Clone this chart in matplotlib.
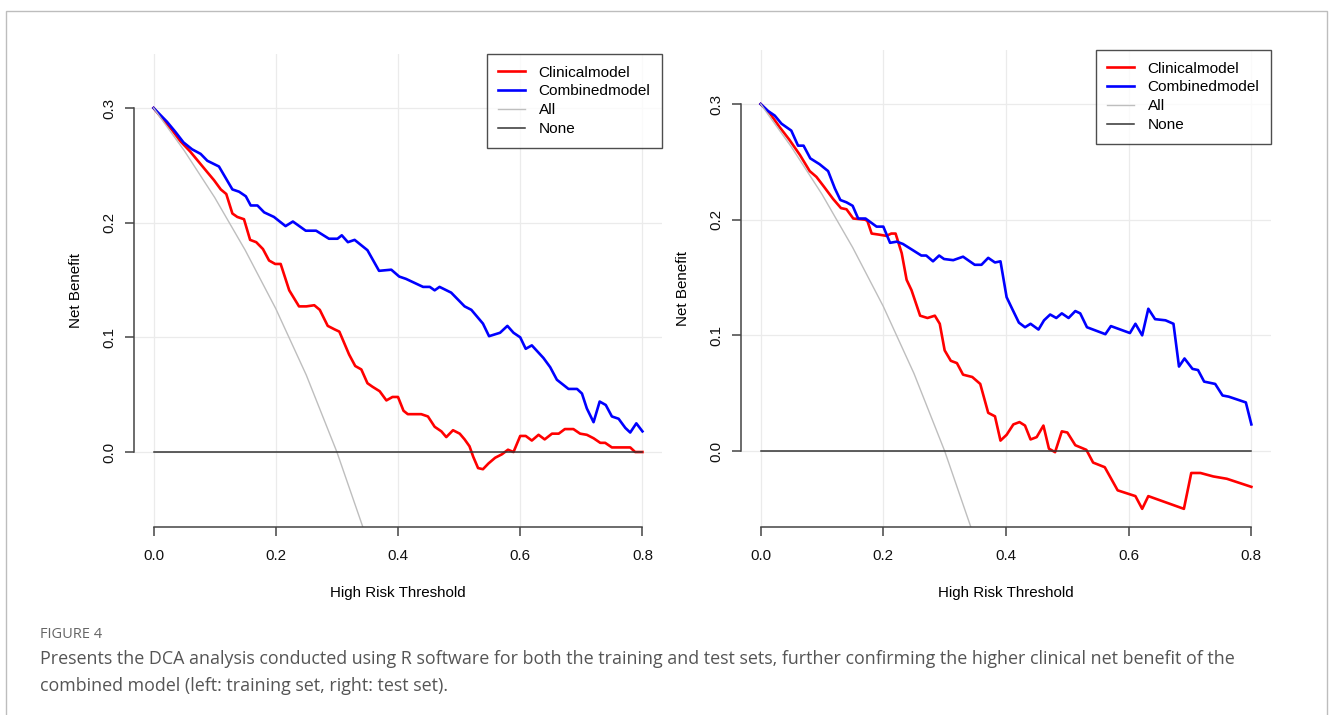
import matplotlib
matplotlib.use("Agg")
import matplotlib.pyplot as plt
from matplotlib.patches import Rectangle

plt.rcParams['font.family'] = ['Liberation Sans', 'DejaVu Sans']

# training set (left panel)
train_clin_x = [0, 0.014, 0.030, 0.044, 0.060, 0.074, 0.088, 0.099, 0.110, 0.119,
                0.129, 0.137, 0.148, 0.158, 0.168, 0.179, 0.189, 0.199, 0.208, 0.222,
                0.238, 0.250, 0.263, 0.272, 0.285, 0.296, 0.304, 0.312, 0.320, 0.330,
                0.340, 0.350, 0.358, 0.370, 0.381, 0.391, 0.400, 0.409, 0.416, 0.438,
                0.449, 0.460, 0.471, 0.479, 0.490, 0.501, 0.509, 0.517, 0.523, 0.531,
                0.539, 0.548, 0.559, 0.570, 0.580, 0.589, 0.600, 0.609, 0.619, 0.630,
                0.640, 0.652, 0.663, 0.673, 0.687, 0.698, 0.709, 0.720, 0.731, 0.739,
                0.750, 0.780, 0.788, 0.800]
train_clin_y = [0.300, 0.291, 0.281, 0.271, 0.262, 0.253, 0.244, 0.237, 0.229, 0.225,
                0.208, 0.205, 0.203, 0.185, 0.183, 0.177, 0.167, 0.164, 0.164, 0.141,
                0.127, 0.127, 0.128, 0.124, 0.110, 0.107, 0.105, 0.095, 0.085, 0.075,
                0.072, 0.060, 0.057, 0.053, 0.045, 0.048, 0.048, 0.036, 0.033, 0.033,
                0.031, 0.022, 0.018, 0.013, 0.019, 0.016, 0.011, 0.005, -0.004, -0.014,
                -0.015, -0.010, -0.005, -0.002, 0.002, 0.000, 0.014, 0.014, 0.010, 0.015,
                0.011, 0.016, 0.016, 0.020, 0.020, 0.016, 0.015, 0.012, 0.008, 0.008,
                0.004, 0.004, 0.000, 0.000]
train_comb_x = [0, 0.011, 0.022, 0.036, 0.049, 0.063, 0.077, 0.088, 0.107, 0.118,
                0.129, 0.140, 0.151, 0.159, 0.170, 0.181, 0.197, 0.216, 0.228, 0.249,
                0.266, 0.287, 0.301, 0.308, 0.318, 0.329, 0.350, 0.369, 0.389, 0.402,
                0.413, 0.441, 0.452, 0.460, 0.468, 0.487, 0.509, 0.520, 0.539, 0.549,
                0.567, 0.579, 0.589, 0.600, 0.609, 0.619, 0.638, 0.649, 0.660, 0.679,
                0.693, 0.701, 0.709, 0.720, 0.730, 0.740, 0.750, 0.761, 0.772, 0.780,
                0.790, 0.800]
train_comb_y = [0.300, 0.294, 0.288, 0.279, 0.270, 0.264, 0.260, 0.254, 0.249, 0.239,
                0.229, 0.227, 0.223, 0.215, 0.215, 0.209, 0.205, 0.197, 0.201, 0.193,
                0.193, 0.186, 0.186, 0.189, 0.183, 0.185, 0.176, 0.158, 0.159, 0.153,
                0.151, 0.144, 0.144, 0.141, 0.144, 0.139, 0.127, 0.124, 0.112, 0.101,
                0.104, 0.110, 0.104, 0.100, 0.090, 0.093, 0.082, 0.074, 0.063, 0.055,
                0.055, 0.051, 0.038, 0.026, 0.044, 0.041, 0.031, 0.029, 0.021, 0.017,
                0.025, 0.018]

# test set (right panel)
test_clin_x = [0, 0.015, 0.031, 0.047, 0.064, 0.080, 0.091, 0.104, 0.118, 0.131,
               0.140, 0.151, 0.170, 0.174, 0.181, 0.194, 0.205, 0.213, 0.220, 0.230,
               0.238, 0.246, 0.260, 0.272, 0.284, 0.292, 0.300, 0.310, 0.320, 0.330,
               0.345, 0.358, 0.371, 0.382, 0.391, 0.401, 0.412, 0.422, 0.431, 0.440,
               0.450, 0.461, 0.470, 0.480, 0.491, 0.500, 0.513, 0.531, 0.542, 0.561,
               0.582, 0.611, 0.622, 0.632, 0.690, 0.702, 0.717, 0.738, 0.760, 0.800]
test_clin_y = [0.300, 0.292, 0.280, 0.269, 0.256, 0.242, 0.237, 0.228, 0.218, 0.210,
               0.209, 0.201, 0.200, 0.199, 0.188, 0.187, 0.186, 0.188, 0.188, 0.171,
               0.148, 0.139, 0.117, 0.115, 0.117, 0.110, 0.087, 0.078, 0.076, 0.066,
               0.064, 0.058, 0.033, 0.030, 0.009, 0.014, 0.023, 0.025, 0.022, 0.010,
               0.012, 0.022, 0.002, -0.001, 0.017, 0.016, 0.005, 0.001, -0.010, -0.014,
               -0.034, -0.039, -0.050, -0.039, -0.050, -0.019, -0.019, -0.022, -0.024, -0.031]
test_comb_x = [0, 0.012, 0.023, 0.034, 0.050, 0.061, 0.070, 0.081, 0.096, 0.110,
               0.121, 0.130, 0.140, 0.150, 0.159, 0.171, 0.189, 0.200, 0.211, 0.222,
               0.232, 0.262, 0.270, 0.281, 0.291, 0.299, 0.314, 0.330, 0.349, 0.360,
               0.371, 0.382, 0.391, 0.401, 0.410, 0.421, 0.431, 0.440, 0.453, 0.462,
               0.472, 0.482, 0.491, 0.502, 0.513, 0.521, 0.532, 0.562, 0.571, 0.602,
               0.611, 0.622, 0.632, 0.643, 0.660, 0.673, 0.682, 0.691, 0.704, 0.713,
               0.723, 0.741, 0.753, 0.763, 0.791, 0.800]
test_comb_y = [0.300, 0.294, 0.290, 0.283, 0.277, 0.264, 0.264, 0.253, 0.248, 0.242,
               0.227, 0.217, 0.215, 0.212, 0.201, 0.201, 0.194, 0.194, 0.180, 0.181,
               0.179, 0.169, 0.169, 0.164, 0.169, 0.166, 0.165, 0.168, 0.161, 0.161,
               0.167, 0.163, 0.164, 0.133, 0.123, 0.111, 0.107, 0.110, 0.105, 0.113,
               0.118, 0.115, 0.119, 0.115, 0.121, 0.119, 0.107, 0.101, 0.108, 0.102,
               0.110, 0.100, 0.123, 0.114, 0.113, 0.110, 0.073, 0.080, 0.071, 0.070,
               0.060, 0.058, 0.048, 0.047, 0.042, 0.023]

# treat-all curve (same prevalence in both sets)
all_x = [0, 0.05, 0.10, 0.15, 0.20, 0.25, 0.30, 0.35]
all_y = [0.300, 0.263, 0.222, 0.176, 0.125, 0.067, 0.000, -0.077]
none_x = [0, 0.8]
none_y = [0, 0]

x_ticks = [0.0, 0.2, 0.4, 0.6, 0.8]
y_ticks = [0.0, 0.1, 0.2, 0.3]
labels = ["Clinicalmodel", "Combinedmodel", "All", "None"]

W, H = 1330, 715
fig = plt.figure(figsize=(W / 100, H / 100), dpi=100)
fig.patch.set_facecolor("white")

# outer frame of the figure box
fig.add_artist(Rectangle((6 / W, -0.01), (1327 - 6) / W, 1 - 11 / H + 0.01,
                         transform=fig.transFigure, fill=False,
                         edgecolor="#bdbdbd", linewidth=1.0))


def dca_panel(rect, clin_x, clin_y, comb_x, comb_y, ylim):
    ax = fig.add_axes(rect)
    ax.set_xlim(-0.032, 0.832)
    ax.set_ylim(*ylim)
    for x in x_ticks:
        ax.axvline(x, color="#ebebeb", linewidth=0.9, zorder=0)
    for y in y_ticks:
        ax.axhline(y, color="#ebebeb", linewidth=0.9, zorder=0)
    ax.plot(clin_x, clin_y, color="#ff0000", linewidth=1.9, label=labels[0])
    ax.plot(comb_x, comb_y, color="#0000ff", linewidth=1.9, label=labels[1])
    ax.plot(all_x, all_y, color="#bebebe", linewidth=1.0, label=labels[2])
    ax.plot(none_x, none_y, color="#333333", linewidth=1.1, label=labels[3])

    for s in ["top", "right"]:
        ax.spines[s].set_visible(False)
    ax.spines["bottom"].set_bounds(0, 0.8)
    ax.spines["left"].set_bounds(0, 0.3)
    for s in ["bottom", "left"]:
        ax.spines[s].set_color("#444444")
        ax.spines[s].set_linewidth(1.1)
    ax.set_xticks(x_ticks)
    ax.set_xticklabels(["%.1f" % v for v in x_ticks])
    ax.set_yticks(y_ticks)
    ax.set_yticklabels(["%.1f" % v for v in y_ticks], rotation=90, va="center")
    ax.tick_params(direction="out", length=6.5, width=1.1, color="#444444",
                   labelsize=10.9, labelcolor="#111111")
    ax.tick_params(axis="x", pad=9)
    ax.tick_params(axis="y", pad=6)
    ax.set_xlabel("High Risk Threshold", fontsize=10.9, labelpad=17)
    ax.set_ylabel("Net Benefit", fontsize=10.9, labelpad=14)

    leg = ax.legend(loc="upper right", bbox_to_anchor=(1.0, 1.0), borderaxespad=0,
                    fontsize=11.1, frameon=True, fancybox=False, handlelength=1.7,
                    handletextpad=0.9, labelspacing=0.32, borderpad=0.75)
    leg.get_frame().set_edgecolor("#222222")
    leg.get_frame().set_linewidth(1.0)
    return ax


dca_panel([134 / W, 1 - 527 / H, (662 - 134) / W, (527 - 54) / H],
          train_clin_x, train_clin_y, train_comb_x, train_comb_y, (-0.0654, 0.3471))
dca_panel([741 / W, 1 - 527 / H, (1271 - 741) / W, (527 - 50) / H],
          test_clin_x, test_clin_y, test_comb_x, test_comb_y, (-0.0657, 0.3467))

fig.text(40 / W, 1 - 634 / H, "FIGURE 4", fontsize=10.5, color="#666666",
         family="Open Sans", va="center")
fig.text(40 / W, 1 - 659 / H,
         "Presents the DCA analysis conducted using R software for both the training and test sets, "
         "further confirming the higher clinical net benefit of the",
         fontsize=12.84, color="#555555", family="Open Sans", va="center")
fig.text(40 / W, 1 - 686 / H,
         "combined model (left: training set, right: test set).",
         fontsize=12.84, color="#555555", family="Open Sans", va="center")

fig.savefig("out.png", dpi=100)
